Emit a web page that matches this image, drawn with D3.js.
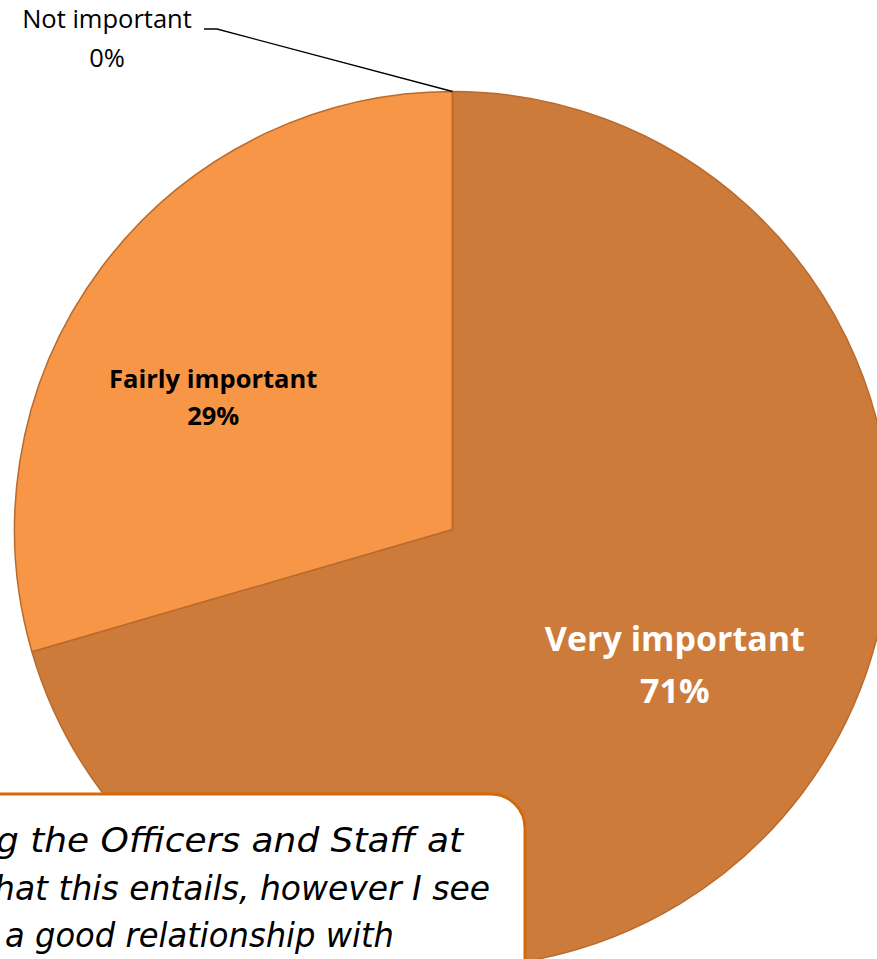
<!DOCTYPE html>
<html>
<head>
<meta charset="utf-8">
<title>Importance pie</title>
<style>
  body { margin: 0; background: #fff; }
  svg { display: block; }
  .lbl { font-family: "Open Sans", Lato, sans-serif; }
  .quote { font-family: "DejaVu Sans", sans-serif; font-style: italic; }
</style>
</head>
<body>
<svg width="877" height="959"></svg>
<script src="https://d3js.org/d3.v7.min.js"></script>
<script>
// data
var categories = ["Very important", "Fairly important", "Not important"];
var values = [70.5, 29.5, 0];
var pctLabels = ["71%", "29%", "0%"];
var colors = ["#CD7B3A", "#F79646", "#F79646"];

var quoteLines = [
  "g the Officers and Staff at",
  "hat this entails, however I see",
  "a good relationship with"
];

var svg = d3.select("svg");
var cx = 452.5, cy = 529.5, radius = 438;

var g = svg.append("g")
    .attr("transform", "translate(" + cx + "," + cy + ")");

var data = categories.map(function(c, i) {
  return {name: c, value: values[i], label: pctLabels[i], color: colors[i]};
});

var pie = d3.pie()
    .sort(null)
    .value(function(d) { return d.value; });

var arc = d3.arc().innerRadius(0).outerRadius(radius);
var arcs = pie(data);

g.selectAll("path.slice")
  .data(arcs)
  .enter().append("path")
    .attr("class", "slice")
    .attr("d", arc)
    .attr("fill", function(d) { return d.data.color; })
    .attr("stroke", "#B96A2C")
    .attr("stroke-width", 1.5)
    .attr("stroke-linejoin", "round");

// inside labels
var labelArc = d3.arc().innerRadius(268).outerRadius(268);
var inside = [
  {i: 0, size: 34, fill: "#fff", dx: 8, dy: -25, gap: 52},
  {i: 1, size: 25.5, fill: "#000", dx: -25, dy: 29, gap: 37}
];

inside.forEach(function(o) {
  var a = arcs[o.i];
  var c = labelArc.centroid(a);
  var t = g.append("text")
      .attr("class", "lbl")
      .attr("text-anchor", "middle")
      .attr("font-weight", "bold")
      .attr("font-size", o.size)
      .attr("fill", o.fill);
  t.append("tspan")
      .attr("x", c[0] + o.dx)
      .attr("y", c[1] + o.dy - o.gap / 2 + o.size * 0.35)
      .text(a.data.name);
  t.append("tspan")
      .attr("x", c[0] + o.dx)
      .attr("y", c[1] + o.dy + o.gap / 2 + o.size * 0.35)
      .text(a.data.label);
});

// outside label for the empty slice, with leader line
var zero = arcs[2];
var tip = [radius * Math.sin(zero.startAngle), -radius * Math.cos(zero.startAngle)];

svg.append("polyline")
    .attr("points", [
      [cx + tip[0], cy + tip[1]],
      [217, 29],
      [204, 29]
    ].map(function(p) { return p.join(","); }).join(" "))
    .attr("fill", "none")
    .attr("stroke", "#000")
    .attr("stroke-width", 1.3);

var outside = svg.append("text")
    .attr("class", "lbl")
    .attr("text-anchor", "middle")
    .attr("font-size", 25.5)
    .attr("fill", "#000");
outside.append("tspan").attr("x", 107).attr("y", 28).text(zero.data.name);
outside.append("tspan").attr("x", 107).attr("y", 67).text(zero.data.label);

// callout box with quote
svg.append("rect")
    .attr("x", -40)
    .attr("y", 794)
    .attr("width", 565)
    .attr("height", 240)
    .attr("rx", 34)
    .attr("ry", 34)
    .attr("fill", "#fff")
    .attr("stroke", "#D4690B")
    .attr("stroke-width", 3);

var qx = [-4, -6, 5];
var qw = [467, 496, 389];
svg.selectAll("text.quote")
  .data(quoteLines)
  .enter().append("text")
    .attr("class", "quote")
    .attr("x", function(d, i) { return qx[i]; })
    .attr("y", function(d, i) { return 852 + i * 47.5; })
    .attr("font-size", 33)
    .attr("fill", "#000")
    .attr("textLength", function(d, i) { return qw[i]; })
    .attr("lengthAdjust", "spacingAndGlyphs")
    .text(function(d) { return d; });
</script>
</body>
</html>
